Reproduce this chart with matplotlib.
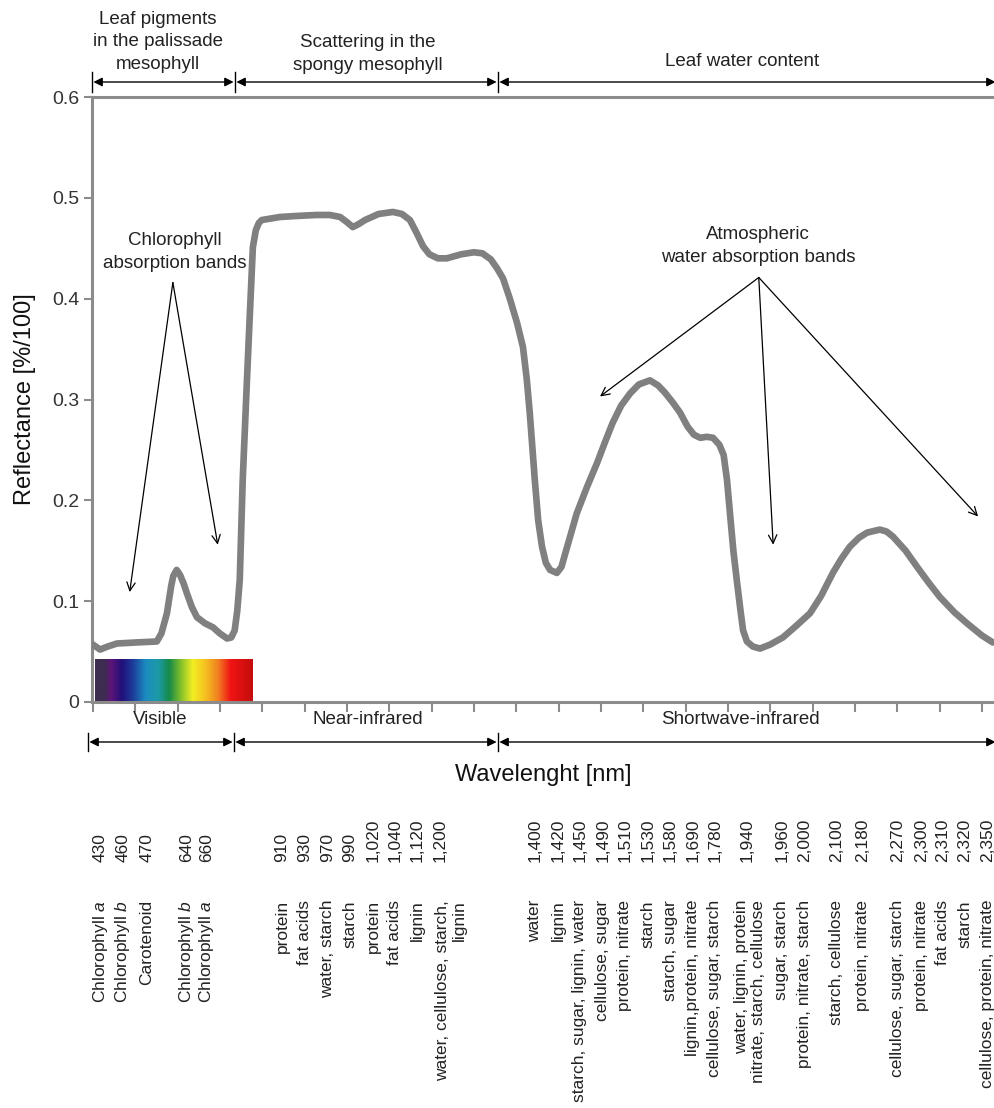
import numpy as np
import matplotlib.pyplot as plt
from matplotlib.colors import LinearSegmentedColormap
from matplotlib.patches import FancyArrowPatch
from matplotlib.lines import Line2D

plt.rcParams['font.family'] = ['Liberation Sans', 'DejaVu Sans']
plt.rcParams['mathtext.fontset'] = 'custom'
plt.rcParams['mathtext.it'] = 'Liberation Sans:italic'
plt.rcParams['mathtext.rm'] = 'Liberation Sans'

# Leaf reflectance spectrum
wavelength = [400, 417, 435, 457, 500, 551, 562, 575, 585, 590, 598, 606, 614, 622,
              634, 646, 665, 684, 700, 717, 727, 735, 741, 747, 754, 764, 771, 778,
              785, 792, 799, 842, 880, 929, 960, 984, 1000, 1014, 1028, 1043, 1075,
              1109, 1130, 1149, 1165, 1180, 1195, 1215, 1236, 1270, 1300, 1320, 1340,
              1355, 1369, 1385, 1402, 1416, 1425, 1432, 1444, 1452, 1461, 1470, 1480,
              1496, 1507, 1515, 1528, 1543, 1567, 1591, 1610, 1628, 1648, 1669, 1690,
              1716, 1735, 1751, 1770, 1787, 1805, 1820, 1835, 1850, 1865, 1880, 1890,
              1898, 1905, 1913, 1921, 1930, 1936, 1945, 1959, 1976, 2000, 2030, 2060,
              2094, 2120, 2148, 2168, 2188, 2210, 2229, 2259, 2275, 2290, 2320, 2347,
              2375, 2401, 2435, 2465, 2500, 2526]
reflectance = [0.057, 0.052, 0.055, 0.058, 0.059, 0.060, 0.068, 0.088, 0.115, 0.125,
               0.131, 0.126, 0.118, 0.108, 0.094, 0.084, 0.078, 0.074, 0.068, 0.063,
               0.064, 0.071, 0.090, 0.121, 0.220, 0.319, 0.386, 0.451, 0.468, 0.475,
               0.478, 0.481, 0.482, 0.483, 0.483, 0.481, 0.476, 0.471, 0.474, 0.478,
               0.484, 0.486, 0.484, 0.478, 0.465, 0.452, 0.444, 0.440, 0.440, 0.444,
               0.446, 0.445, 0.439, 0.430, 0.420, 0.400, 0.376, 0.352, 0.320, 0.287,
               0.220, 0.180, 0.154, 0.138, 0.131, 0.128, 0.134, 0.146, 0.165, 0.187,
               0.213, 0.237, 0.258, 0.277, 0.294, 0.306, 0.315, 0.319, 0.314, 0.307,
               0.297, 0.287, 0.273, 0.265, 0.262, 0.263, 0.262, 0.255, 0.245, 0.220,
               0.187, 0.150, 0.121, 0.090, 0.071, 0.060, 0.055, 0.053, 0.057, 0.064,
               0.075, 0.088, 0.105, 0.128, 0.142, 0.154, 0.163, 0.168, 0.171, 0.169,
               0.164, 0.150, 0.134, 0.118, 0.104, 0.089, 0.078, 0.066, 0.059]

yticks = [0, 0.1, 0.2, 0.3, 0.4, 0.5, 0.6]
ytick_labels = ['0', '0.1', '0.2', '0.3', '0.4', '0.5', '0.6']

# absorption features listed under the chart
band_numbers = ['430', '460', '470', '640', '660',
                '910', '930', '970', '990', '1,020', '1,040', '1,120', '1,200',
                '1,400', '1,420', '1,450', '1,490', '1,510', '1,530', '1,580', '1,690',
                '1,780', '1,940', '1,960', '2,000', '2,100', '2,180', '2,270', '2,300',
                '2,310', '2,320', '2,350']
band_compounds = ['Chlorophyll $a$', 'Chlorophyll $b$', 'Carotenoid', 'Chlorophyll $b$',
                  'Chlorophyll $a$',
                  'protein', 'fat acids', 'water, starch', 'starch', 'protein',
                  'fat acids', 'lignin', 'water, cellulose, starch,\nlignin',
                  'water', 'lignin', 'starch, sugar, lignin, water', 'cellulose, sugar',
                  'protein, nitrate', 'starch', 'starch, sugar', 'lignin,protein, nitrate',
                  'cellulose, sugar, starch', 'water, lignin, protein\nnitrate, starch, cellulose',
                  'sugar, starch', 'protein, nitrate, starch', 'starch, cellulose',
                  'protein, nitrate', 'cellulose, sugar, starch', 'protein, nitrate',
                  'fat acids', 'starch', 'cellulose, protein, nitrate']

# layout (pixels of the 995x1108 canvas)
W, H = 995, 1108
column_x = [100, 123, 147, 187, 207,
            282, 305, 328, 350, 373, 395, 417, 440,
            535, 558, 580, 603, 625, 648, 670, 693, 715, 747, 782, 805, 837, 863,
            898, 922, 943, 965, 988]
compound_shift = {12: 11, 22: 3}


def fx(x):
    return x / W


def fy(y):
    return 1 - y / H


fig = plt.figure(figsize=(W / 100, H / 100), dpi=100)
ax = fig.add_axes([fx(92), fy(702), (995 - 92) / W, (702 - 97) / H])

spectrum = LinearSegmentedColormap.from_list('spectrum', [
    (0.0, '#3d2d50'), (0.06, '#3d2d50'), (0.10, '#5e1478'), (0.17, '#20107a'),
    (0.24, '#1e3c9a'), (0.32, '#1c8cc0'), (0.40, '#1c9aa8'), (0.47, '#168a48'),
    (0.55, '#8cc42a'), (0.62, '#f2ee22'), (0.70, '#f6c020'), (0.78, '#f08020'),
    (0.86, '#f01414'), (1.0, '#c40c0c')])
ax.imshow(np.linspace(0, 1, 256)[None, :], extent=[405, 778, 0, 0.042],
          aspect='auto', cmap=spectrum, zorder=1)

ax.plot(wavelength, reflectance, color='#808080', lw=4.8,
        solid_joinstyle='round', solid_capstyle='round', zorder=3)

ax.set_xlim(398, 2531)
ax.set_ylim(0, 0.6)
ax.set_xticks(range(400, 2501, 100))
ax.set_xticklabels([])
ax.set_yticks(yticks)
ax.set_yticklabels(ytick_labels)
ax.tick_params(axis='x', length=7, width=1.5, color='#8c8c8c', direction='out')
ax.tick_params(axis='y', length=6, width=1.5, color='#8c8c8c', labelsize=14,
               labelcolor='#333333', pad=3)
for side in ['left', 'bottom', 'top']:
    ax.spines[side].set_color('#8c8c8c')
    ax.spines[side].set_linewidth(2.2)
ax.spines['right'].set_visible(False)

# arrows to the absorption bands
arrow = dict(arrowstyle='->', lw=0.9, color='black', shrinkA=0, shrinkB=0,
             mutation_scale=15)
for tx, ty in [(487, 0.109), (695, 0.156)]:
    ax.annotate('', xy=(tx, ty), xytext=(589, 0.416), arrowprops=arrow)
for tx, ty in [(1598, 0.303), (2007, 0.156), (2491, 0.184)]:
    ax.annotate('', xy=(tx, ty), xytext=(1973, 0.421), arrowprops=arrow)

txt = dict(ha='center', va='center', fontsize=13.5, color='#222222', linespacing=1.45)
fig.text(fx(175), fy(252), 'Chlorophyll\nabsorption bands', **txt)
fig.text(fx(758), fy(246), 'Atmospheric\nwater absorption bands', **txt)

# region labels above and below the plot
fig.text(fx(158), fy(42), 'Leaf pigments\nin the palissade\nmesophyll', **txt)
fig.text(fx(368), fy(54), 'Scattering in the\nspongy mesophyll', **txt)
fig.text(fx(742), fy(62), 'Leaf water content', **txt)
fig.text(fx(160), fy(720), 'Visible', **txt)
fig.text(fx(368), fy(720), 'Near-infrared', **txt)
fig.text(fx(740), fy(720), 'Shortwave-infrared', **txt)


def bracket(x0, x1, y):
    fig.add_artist(FancyArrowPatch((fx(x0), fy(y)), (fx(x1), fy(y)),
                                   transform=fig.transFigure, arrowstyle='<|-|>',
                                   mutation_scale=13, lw=1.0, color='black',
                                   shrinkA=1, shrinkB=1))


for x0, x1 in [(92, 235), (235, 498), (498, 997)]:
    bracket(x0, x1, 82)
for x in [92, 235, 498]:
    fig.add_artist(Line2D([fx(x), fx(x)], [fy(72), fy(92)], color='black', lw=1.0,
                          transform=fig.transFigure))
for x0, x1 in [(88, 234), (234, 498), (498, 997)]:
    bracket(x0, x1, 742)
for x in [88, 234, 498]:
    fig.add_artist(Line2D([fx(x), fx(x)], [fy(733), fy(751)], color='black', lw=1.0,
                          transform=fig.transFigure))

ax.set_ylabel('Reflectance [%/100]', fontsize=17, color='#111111', labelpad=12)
fig.text(fx(543), fy(775), 'Wavelenght [nm]', ha='center', va='center',
         fontsize=17, color='#111111')

# band table under the chart
for i, (x, num, comp) in enumerate(zip(column_x, band_numbers, band_compounds)):
    fig.text(fx(x), fy(862), num, rotation=90, ha='center', va='bottom',
             fontsize=12.5, color='#222222')
    fig.text(fx(x + compound_shift.get(i, 0)), fy(900), comp, rotation=90,
             ha='center', va='top', fontsize=12.5, color='#222222',
             multialignment='right', linespacing=1.1)

fig.savefig('out.png', dpi=100)
